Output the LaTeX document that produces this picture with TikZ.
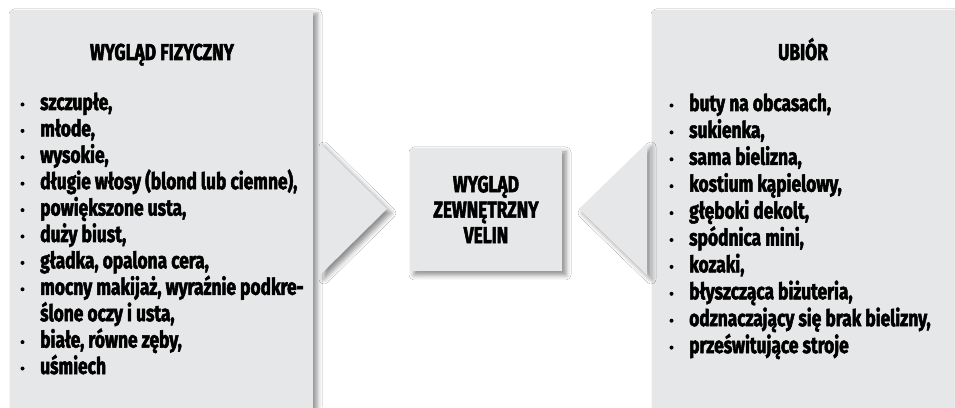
\documentclass[tikz,border=0pt]{standalone}
\usepackage{fontspec}
\setmainfont{Fira Sans}[FakeStretch=0.755, BoldFeatures={FakeBold=2.2}]
\usepackage{tikz}
\usetikzlibrary{shadows.blur}
\definecolor{panelgray}{RGB}{230,231,232}
\tikzset{
  panel/.style={fill=panelgray, draw=none,
    blur shadow={shadow xshift=4pt, shadow yshift=-4pt, shadow blur radius=5pt, shadow opacity=45}},
  item/.style={anchor=base west, inner sep=0pt, font=\fontsize{23}{27}\selectfont\bfseries},
  heading/.style={anchor=base, inner sep=0pt, font=\fontsize{23}{27}\selectfont\bfseries}
}
\begin{document}
\begin{tikzpicture}[x=1pt,y=1pt]
  \clip (0,0) rectangle (955,407);
  \fill[white] (0,0) rectangle (955,407);
  % Panels
  \fill[panel] (10,-20) rectangle (313,397);
  \fill[panel] (652,-20) rectangle (975,397);
  % Arrows
  \fill[panel] (320,264) -- (387,198) -- (320,132) -- cycle;
  \fill[panel] (647,264) -- (579,198) -- (647,132) -- cycle;
  % Centre box
  \node[panel, minimum width=152pt, minimum height=123pt] (centre) at (486,197.5) {};
  \node[align=center, inner sep=0pt, font=\fontsize{23}{25.5}\selectfont\bfseries] (velin) at (centre) {WYGLĄD\\ZEWNĘTRZNY\\VELIN};
  % Left list
  \node[heading] (fiztitle) at (162,347) {WYGLĄD FIZYCZNY};
  \foreach \t [count=\i] in {{szczupłe,},{młode,},{wysokie,},{długie włosy (blond lub ciemne),},{powiększone usta,},{duży biust,},{gładka, opalona cera,},{mocny makijaż, wyraźnie podkre-},{ślone oczy i usta,},{białe, równe zęby,},{uśmiech}}
    \node[item] (fiz\i) at (40,{297-26.4*(\i-1)}) {\t};
  \foreach \i in {1,...,8,10,11} \fill ([xshift=-17.5pt,yshift=5.5pt]fiz\i.base west) circle (2pt);
  % Right list
  \node[heading] (ubtitle) at (803,347) {UBIÓR};
  \foreach \t [count=\i] in {{buty na obcasach,},{sukienka,},{sama bielizna,},{kostium kąpielowy,},{głęboki dekolt,},{spódnica mini,},{kozaki,},{błyszcząca biżuteria,},{odznaczający się brak bielizny,},{prześwitujące stroje}}
    \node[item] (ub\i) at (689,{296-26.9*(\i-1)}) {\t};
  \foreach \i in {1,...,10} \fill ([xshift=-17.5pt,yshift=5.5pt]ub\i.base west) circle (2pt);
\end{tikzpicture}
\end{document}
